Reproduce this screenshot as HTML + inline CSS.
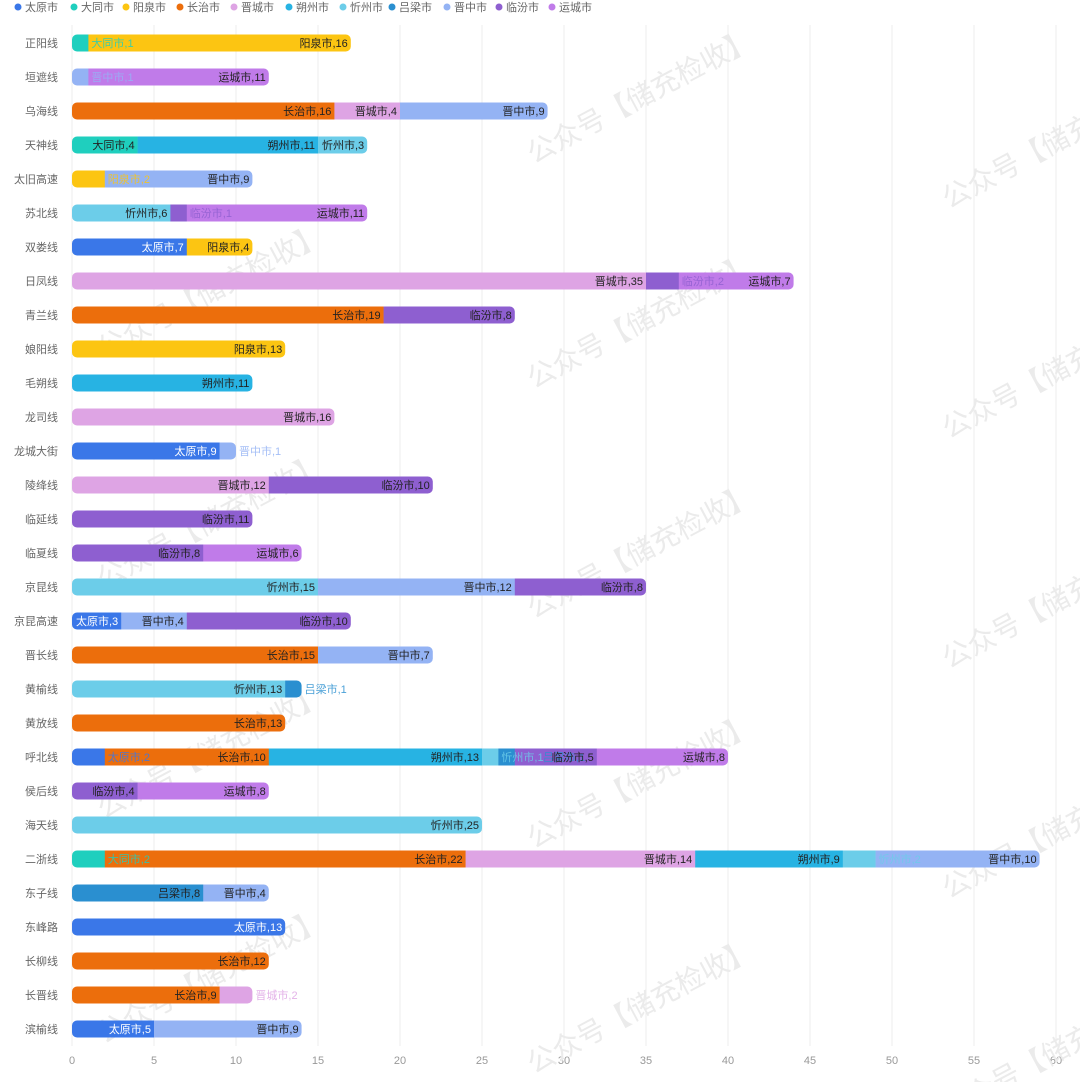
<!DOCTYPE html>
<html><head><meta charset="utf-8">
<style>
html,body{margin:0;padding:0;background:#fff;}
svg{display:block;font-family:"Liberation Sans","Noto Sans CJK SC",sans-serif;}
</style></head>
<body>
<svg id="chart" width="1080" height="1082" viewBox="0 0 1080 1082" xmlns="http://www.w3.org/2000/svg"></svg>
<script>
const categories = ["正阳线","垣遮线","乌海线","天神线","太旧高速","苏北线","双娄线","日凤线","青兰线","娘阳线","毛朔线","龙司线","龙城大街","陵绛线","临延线","临夏线","京昆线","京昆高速","晋长线","黄榆线","黄放线","呼北线","侯后线","海天线","二浙线","东子线","东峰路","长柳线","长晋线","滨榆线"];
const seriesNames = ["太原市","大同市","阳泉市","长治市","晋城市","朔州市","忻州市","吕梁市","晋中市","临汾市","运城市"];
const taiyuan = [0,0,0,0,0,0,7,0,0,0,0,0,9,0,0,0,0,3,0,0,0,2,0,0,0,0,13,0,0,5];
const datong  = [1,0,0,4,0,0,0,0,0,0,0,0,0,0,0,0,0,0,0,0,0,0,0,0,2,0,0,0,0,0];
const yangquan= [16,0,0,0,2,0,4,0,0,13,0,0,0,0,0,0,0,0,0,0,0,0,0,0,0,0,0,0,0,0];
const changzhi= [0,0,16,0,0,0,0,0,19,0,0,0,0,0,0,0,0,0,15,0,13,10,0,0,22,0,0,12,9,0];
const jincheng= [0,0,4,0,0,0,0,35,0,0,0,16,0,12,0,0,0,0,0,0,0,0,0,0,14,0,0,0,2,0];
const shuozhou= [0,0,0,11,0,0,0,0,0,0,11,0,0,0,0,0,0,0,0,0,0,13,0,0,9,0,0,0,0,0];
const xinzhou = [0,0,0,3,0,6,0,0,0,0,0,0,0,0,0,0,15,0,0,13,0,1,0,25,2,0,0,0,0,0];
const lvliang = [0,0,0,0,0,0,0,0,0,0,0,0,0,0,0,0,0,0,0,1,0,1,0,0,0,8,0,0,0,0];
const jinzhong= [0,1,9,0,9,0,0,0,0,0,0,0,1,0,0,0,12,4,7,0,0,0,0,0,10,4,0,0,0,9];
const linfen  = [0,0,0,0,0,1,0,2,8,0,0,0,0,10,11,8,8,10,0,0,0,5,4,0,0,0,0,0,0,0];
const yuncheng= [0,11,0,0,0,11,0,7,0,0,0,0,0,0,0,6,0,0,0,0,0,8,8,0,0,0,0,0,0,0];
const xTicks = [0,5,10,15,20,25,30,35,40,45,50,55,60];

const seriesData=[taiyuan,datong,yangquan,changzhi,jincheng,shuozhou,xinzhou,lvliang,jinzhong,linfen,yuncheng];
const colors=["#3a77e8","#1fcfbe","#fcc512","#ec6e0c","#dea4e4","#27b3e3","#6ccde9","#2a8fd0","#94b3f4","#8e5fd0","#c07be9"];
const keys=["taiyuan","datong","yangquan","changzhi","jincheng","shuozhou","xinzhou","lvliang","jinzhong","linfen","yuncheng"];
const NS="http://www.w3.org/2000/svg";
const svg=document.getElementById('chart');
const X0=72,X1=1056,XMAX=60,Y0=43,YSTEP=34,BH=17;
function xs(v){return X0+(X1-X0)*v/XMAX;}
function ys(i){return Y0+i*YSTEP;}
function mk(t,a,p){const e=document.createElementNS(NS,t);for(const k in a)e.setAttribute(k,a[k]);(p||svg).appendChild(e);return e;}

xTicks.forEach(t=>{
  const g=mk('line',{x1:xs(t),x2:xs(t),y1:25,y2:1046,stroke:'#ececec','stroke-width':1});
  
  
  const tx=mk('text',{x:xs(t),y:1064,'text-anchor':'middle','font-size':11,fill:'#999'});
  tx.textContent=t;
  
  
});

const wmPos=[[645,105],[1060,150],[215,300],[645,330],[1060,380],[215,530],[645,560],[1060,610],[215,760],[645,790],[1060,840],[215,985],[645,1015],[1060,1060]];
wmPos.forEach((p,i)=>{
  const w=mk('text',{x:p[0],y:p[1],'text-anchor':'middle','font-size':28,fill:'#ebebeb',transform:`rotate(-28 ${p[0]} ${p[1]})`});
  w.textContent='公众号【储充检收】';
  
  
});

categories.forEach((c,i)=>{
  const t=mk('text',{x:58,y:ys(i)+4,'text-anchor':'end','font-size':11,fill:'#666'});
  t.textContent=c;
  
  
});

const labelLayer=[];
categories.forEach((c,i)=>{
  const g=mk('g',{});
  
  
  const segs=[];let acc=0;
  seriesData.forEach((arr,s)=>{if(arr[i]>0){segs.push({s,v:arr[i],a:acc});acc+=arr[i];}});
  const clipId='clip'+i;
  const cp=mk('clipPath',{id:clipId},g);
  mk('rect',{x:xs(0),y:ys(i)-BH/2,width:xs(acc)-xs(0),height:BH,rx:5,ry:5},cp);
  const bg=mk('g',{'clip-path':`url(#${clipId})`},g);
  let lastEnd=0;
  segs.forEach(sg=>{
    const x1=xs(sg.a),x2=xs(sg.a+sg.v);
    const r=mk('rect',{x:x1,y:ys(i)-BH/2,width:x2-x1+0.3,height:BH,fill:colors[sg.s]},bg);
    
    
    const txt=seriesNames[sg.s]+','+sg.v;
    const tw=txt.length*8.5-4;
    if(x2-x1>=tw+4){
      labelLayer.push({x:x2-3,y:ys(i)+4,anchor:'end',fill:sg.s===0?'#fff':'#222',txt,op:1});
    }else{
      let lx=Math.max(x2+3,lastEnd+3);
      labelLayer.push({x:lx,y:ys(i)+4,anchor:'start',fill:colors[sg.s],txt,op:0.85});
      lastEnd=lx+tw;
    }
  });
});
labelLayer.forEach(l=>{
  const t=mk('text',{x:l.x,y:l.y,'text-anchor':l.anchor,'font-size':11,fill:l.fill,'fill-opacity':l.op});
  t.textContent=l.txt;
  
  
});

const legX=[18,74,126,180,234,289,343,392,447,499,552];
seriesNames.forEach((n,s)=>{
  const g=mk('g',{});
  
  
  mk('circle',{cx:legX[s],cy:7,r:3.5,fill:colors[s]},g);
  const t=mk('text',{x:legX[s]+7,y:11,'font-size':11,fill:'#666'},g);
  t.textContent=n;
});
</script>
</body></html>
